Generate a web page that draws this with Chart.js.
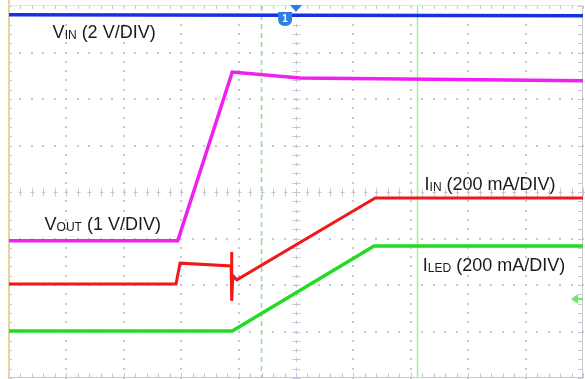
<!DOCTYPE html>
<html>
<head>
<meta charset="utf-8">
<script src="https://cdn.jsdelivr.net/npm/chart.js@4/dist/chart.umd.min.js"></script>
<style>
  html, body { margin: 0; padding: 0; background: #fff; }
  #wrap { width: 585px; height: 379px; position: relative; }
</style>
</head>
<body>
<div id="wrap"><canvas id="scope"></canvas></div>
<script>
// time axis in divisions (0..10), vertical in divisions (-4..4)
const vinX   = [0, 10];
const vinY   = [3.81, 3.79];
const voutX  = [0, 2.94, 3.89, 5.07, 10];
const voutY  = [-1.05, -1.05, 2.58, 2.45, 2.39];
const iinX   = [0, 2.91, 2.98, 3.87, 3.88, 3.88, 3.90, 3.97, 6.38, 10];
const iinY   = [-1.98, -1.98, -1.53, -1.59, -1.29, -2.34, -1.80, -1.89, -0.13, -0.13];
const iledX  = [0, 3.89, 6.36, 10];
const iledY  = [-2.99, -2.99, -1.16, -1.16];
const cursorX = [4.39, 7.11];

const toPts = (xs, ys) => xs.map((x, i) => ({ x: x, y: ys[i] }));

const labels = [
    { main: 'V', sub: 'IN',  rest: ' (2 V/DIV)',      x: 0.76, y: 3.31 },
    { main: 'V', sub: 'OUT', rest: ' (1 V/DIV)',      x: 0.62, y: -0.82 },
    { main: 'I', sub: 'IN',  rest: ' (200 mA/DIV)',   x: 7.24, y: 0.04 },
    { main: 'I', sub: 'LED', rest: ' (200 mA/DIV)',   x: 7.21, y: -1.7 }
];

const scopeGrid = {
    id: 'scopeGrid',
    beforeDatasetsDraw(chart) {
        const c = chart.ctx;
        const xs = chart.scales.x, ys = chart.scales.y;
        const a = chart.chartArea;
        c.save();
        c.fillStyle = '#c6c6d6';
        // dotted majors
        for (let i = 1; i < 10; i++) {
            if (i === 5) continue;
            const px = xs.getPixelForValue(i);
            for (let j = -20; j <= 20; j++) {
                const py = ys.getPixelForValue(j / 5);
                c.fillRect(Math.round(px) - 1, Math.round(py) - 1, 2, 2);
            }
        }
        for (let j = -3; j <= 3; j++) {
            if (j === 0) continue;
            const py = ys.getPixelForValue(j);
            for (let i = 0; i <= 50; i++) {
                const px = xs.getPixelForValue(i / 5);
                c.fillRect(Math.round(px) - 1, Math.round(py) - 1, 2, 2);
            }
        }
        // center axes with minor ticks
        c.strokeStyle = '#c6c6d6';
        c.lineWidth = 1;
        const cx = Math.round(xs.getPixelForValue(5)) + 0.5;
        const cy = Math.round(ys.getPixelForValue(0)) + 0.5;
        c.beginPath();
        for (let j = -20; j <= 20; j++) {
            const py = Math.round(ys.getPixelForValue(j / 5)) + 0.5;
            c.moveTo(cx - 4, py); c.lineTo(cx + 4, py);
            c.moveTo(cx, py - 2); c.lineTo(cx, py + 2);
            c.moveTo(a.right - 5, py); c.lineTo(a.right, py);
            c.moveTo(a.left, py); c.lineTo(a.left + 3, py);
        }
        for (let i = 0; i <= 50; i++) {
            const px = Math.round(xs.getPixelForValue(i / 5)) + 0.5;
            c.moveTo(px, cy - 4); c.lineTo(px, cy + 4);
            c.moveTo(px - 2, cy); c.lineTo(px + 2, cy);
            c.moveTo(px, a.bottom - 5); c.lineTo(px, a.bottom);
            c.moveTo(px, a.top); c.lineTo(px, a.top + 3);
        }
        c.stroke();
        // frame
        c.strokeStyle = '#c8c8d4';
        c.beginPath();
        c.moveTo(a.right - 0.5, a.top); c.lineTo(a.right - 0.5, a.bottom);
        c.moveTo(a.left, a.bottom - 0.5); c.lineTo(a.right, a.bottom - 0.5);
        c.stroke();
        c.strokeStyle = '#ece6c4';
        c.beginPath();
        c.moveTo(a.left, a.top - 0.5); c.lineTo(a.right, a.top - 0.5);
        c.stroke();
        c.strokeStyle = '#e2d6a0';
        c.lineWidth = 2;
        c.beginPath();
        c.moveTo(a.left, 0); c.lineTo(a.left, chart.height);
        c.stroke();
        // cursors
        c.lineWidth = 1.5;
        c.strokeStyle = '#86e886';
        c.setLineDash([5, 4]);
        let px = Math.round(xs.getPixelForValue(cursorX[0])) + 0.5;
        c.beginPath(); c.moveTo(px, a.top); c.lineTo(px, a.bottom); c.stroke();
        c.setLineDash([]);
        c.strokeStyle = '#9ff09f';
        px = Math.round(xs.getPixelForValue(cursorX[1])) + 0.5;
        c.beginPath(); c.moveTo(px, a.top); c.lineTo(px, a.bottom); c.stroke();
        c.restore();
    },
    afterDatasetsDraw(chart) {
        const c = chart.ctx;
        const xs = chart.scales.x, ys = chart.scales.y;
        const a = chart.chartArea;
        c.save();
        // trigger marker
        const tx = xs.getPixelForValue(5);
        c.fillStyle = '#2a7ee6';
        c.beginPath();
        c.moveTo(tx - 6, a.top - 1); c.lineTo(tx + 6, a.top - 1); c.lineTo(tx, a.top + 6);
        c.closePath(); c.fill();
        // channel 1 badge
        const bx = xs.getPixelForValue(4.81), by = ys.getPixelForValue(3.74);
        c.beginPath();
        c.moveTo(bx - 7, by - 6); c.lineTo(bx + 7, by - 6); c.lineTo(bx + 7, by + 1);
        c.quadraticCurveTo(bx + 7, by + 8, bx, by + 8);
        c.quadraticCurveTo(bx - 7, by + 8, bx - 7, by + 1);
        c.closePath(); c.fill();
        c.fillStyle = '#fff';
        c.font = 'bold 10px "Liberation Sans"';
        c.textAlign = 'center';
        c.textBaseline = 'middle';
        c.fillText('1', bx, by + 1);
        // channel 4 arrow at right
        const ay = ys.getPixelForValue(-2.3);
        c.fillStyle = '#6ee86e';
        c.beginPath();
        c.moveTo(a.right - 12, ay); c.lineTo(a.right - 5, ay - 5); c.lineTo(a.right - 5, ay + 5);
        c.closePath(); c.fill();
        c.fillRect(a.right - 6, ay - 1, 6, 2);
        // trace labels
        c.fillStyle = '#1a1a1a';
        c.textAlign = 'left';
        c.textBaseline = 'alphabetic';
        labels.forEach(l => {
            let x = xs.getPixelForValue(l.x);
            const y = ys.getPixelForValue(l.y);
            c.font = '18px "Liberation Sans"';
            c.fillText(l.main, x, y);
            x += c.measureText(l.main).width;
            c.font = '12px "Liberation Sans"';
            c.fillText(l.sub, x, y + 1);
            x += c.measureText(l.sub).width;
            c.font = '18px "Liberation Sans"';
            c.fillText(l.rest, x, y);
        });
        c.restore();
    }
};

const ctx = document.getElementById('scope').getContext('2d');
const scopeChart = new Chart(ctx, {
    type: 'line',
    data: {
        datasets: [
            { label: 'VIN',  data: toPts(vinX, vinY),   borderColor: '#1a2ee6', borderWidth: 3.5 },
            { label: 'VOUT', data: toPts(voutX, voutY), borderColor: '#f020f0', borderWidth: 3.5 },
            { label: 'IIN',  data: toPts(iinX, iinY),   borderColor: '#f01818', borderWidth: 3 },
            { label: 'ILED', data: toPts(iledX, iledY), borderColor: '#22dc22', borderWidth: 3.5 }
        ]
    },
    options: {
        responsive: true,
        maintainAspectRatio: false,
        animation: false,
        layout: { padding: { left: 9, top: 6, right: 2, bottom: 1 } },
        elements: { point: { radius: 0 }, line: { tension: 0 } },
        plugins: { legend: { display: false }, tooltip: { enabled: false } },
        scales: {
            x: { type: 'linear', min: 0, max: 10, display: false },
            y: { type: 'linear', min: -4, max: 4, display: false }
        }
    },
    plugins: [scopeGrid]
});
</script>
</body>
</html>
